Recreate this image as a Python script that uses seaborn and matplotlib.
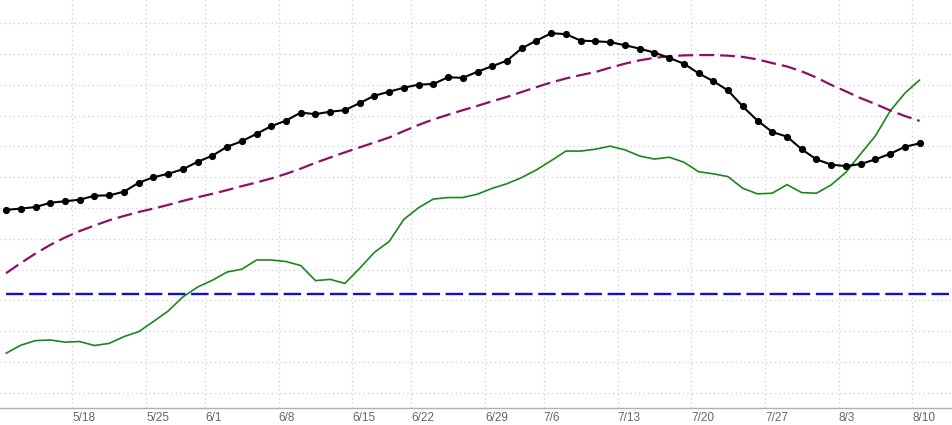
import matplotlib
matplotlib.use("Agg")
import matplotlib.pyplot as plt
import seaborn as sns
import numpy as np
import pandas as pd

# ---- data (y in chart units, gridlines at integers) ----
price = [5.94, 5.98, 6.03, 6.17, 6.22, 6.27, 6.40, 6.41, 6.53, 6.82,
         7.00, 7.11, 7.26, 7.50, 7.70, 7.99, 8.17, 8.41, 8.66, 8.84,
         9.10, 9.05, 9.13, 9.18, 9.41, 9.65, 9.78, 9.91, 10.01, 10.03,
         10.25, 10.23, 10.43, 10.61, 10.79, 11.19, 11.44, 11.68, 11.65, 11.44,
         11.42, 11.39, 11.29, 11.18, 11.05, 10.88, 10.69, 10.38, 10.12, 9.82,
         9.30, 8.84, 8.47, 8.32, 7.91, 7.58, 7.41, 7.36, 7.43, 7.58,
         7.76, 7.99, 8.10]

indicator = [1.28, 1.54, 1.69, 1.71, 1.64, 1.66, 1.53, 1.60, 1.82, 1.98,
             2.31, 2.65, 3.11, 3.43, 3.65, 3.92, 4.01, 4.31, 4.31, 4.26,
             4.13, 3.64, 3.68, 3.55, 4.04, 4.56, 4.91, 5.63, 6.01, 6.29,
             6.34, 6.34, 6.45, 6.64, 6.79, 6.99, 7.24, 7.54, 7.85, 7.85,
             7.91, 8.01, 7.89, 7.69, 7.59, 7.65, 7.49, 7.18, 7.11, 7.02,
             6.64, 6.46, 6.48, 6.76, 6.50, 6.48, 6.75, 7.16, 7.76, 8.34,
             9.15, 9.73, 10.16]

moving_avg = [3.88, 4.21, 4.52, 4.80, 5.04, 5.25, 5.43, 5.60, 5.74, 5.87,
              5.98, 6.10, 6.23, 6.35, 6.46, 6.58, 6.71, 6.83, 6.96, 7.11,
              7.28, 7.47, 7.64, 7.81, 7.97, 8.13, 8.29, 8.50, 8.70, 8.88,
              9.03, 9.18, 9.32, 9.47, 9.61, 9.77, 9.93, 10.08, 10.21, 10.32,
              10.42, 10.56, 10.69, 10.80, 10.88, 10.93, 10.96, 10.97, 10.97, 10.95,
              10.91, 10.83, 10.71, 10.60, 10.44, 10.24, 10.00, 9.79, 9.57, 9.38,
              9.17, 8.99, 8.83]

baseline_level = 3.20
baseline_span = [0, 64]

tick_labels = ["5/18", "5/25", "6/1", "6/8", "6/15", "6/22", "6/29",
               "7/6", "7/13", "7/20", "7/27", "8/3", "8/10"]
tick_positions = [4.5, 9.5, 13.5, 18.5, 23.5, 27.5, 32.5,
                  36.5, 41.5, 46.5, 51.5, 56.5, 61.5]

# ---- figure ----
sns.set_style("white")
plt.rcParams['font.family'] = ['Liberation Sans', 'DejaVu Sans']

fig = plt.figure(figsize=(9.52, 4.25), dpi=100)
ax = fig.add_axes([0, 17 / 425, 1, 408 / 425])

idx = np.arange(len(price))
df = pd.DataFrame({"i": idx, "price": price, "ind": indicator, "ma": moving_avg})
base_df = pd.DataFrame({"i": baseline_span, "v": [baseline_level] * 2})

sns.lineplot(data=base_df, x="i", y="v", ax=ax, color="#1010c8", linewidth=1.7)
base_line = ax.lines[-1]
base_line.set_dashes((7.4, 2.4))

sns.lineplot(data=df, x="i", y="ind", ax=ax, color="#1c861c", linewidth=1.2)

sns.lineplot(data=df, x="i", y="ma", ax=ax, color="#8c1068", linewidth=1.6)
ma_line = ax.lines[-1]
ma_line.set_dashes((6.7, 2.7))

sns.lineplot(data=df, x="i", y="price", ax=ax, color="black", linewidth=1.5,
             marker="o", markersize=5.2, markeredgewidth=0, markerfacecolor="black")

ax.set_xlim(-0.41, 64.2)
ax.set_ylim(-0.5, 12.76)
ax.set_xticks(tick_positions)
ax.set_xticklabels(tick_labels, ha="left")
ax.set_yticks(np.arange(0, 13))
ax.set_yticklabels([])
ax.set_xlabel("")
ax.set_ylabel("")

ax.grid(True, which="major", color="#cfcfcf", linestyle=(0, (1, 2.5)), linewidth=0.9)
ax.set_axisbelow(True)
ax.tick_params(axis="x", length=0, pad=3, labelsize=8.5, labelcolor="#666666")
ax.tick_params(axis="y", length=0)
for s in ["left", "right", "top"]:
    ax.spines[s].set_visible(False)
ax.spines["bottom"].set_color("#b0b0b0")
ax.spines["bottom"].set_linewidth(1.0)

fig.savefig("out.png", dpi=100)
